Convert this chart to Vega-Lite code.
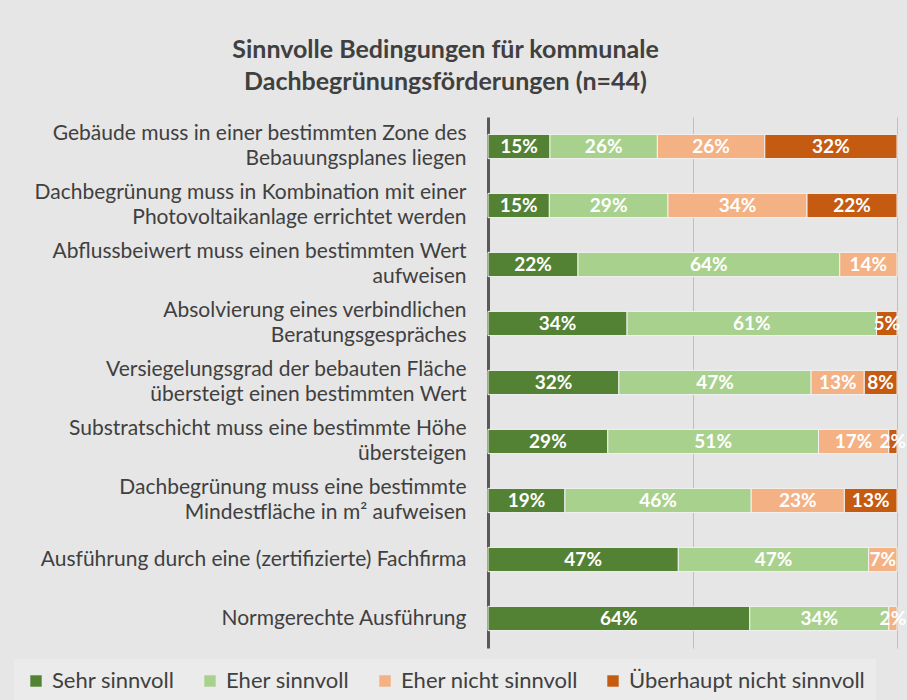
{
  "$schema": "https://vega.github.io/schema/vega-lite/v6.json",
  "autosize": {"type": "none"},
  "width": 409,
  "height": 531,
  "padding": {"left": 488, "top": 117, "right": 10, "bottom": 52},
  "background": "#e6e6e6",
  "config": {
    "font": "Lato",
    "view": {"stroke": null}
  },
  "title": {
    "text": ["Sinnvolle Bedingungen für kommunale", "Dachbegrünungsförderungen (n=44)"],
    "font": "Lato",
    "fontSize": 25,
    "fontWeight": "bold",
    "color": "#404040",
    "lineHeight": 32,
    "anchor": "middle",
    "dx": -247,
    "offset": 22
  },
  "data": {
    "values": [
      {"q": "Gebäude muss in einer bestimmten Zone des|Bebauungsplanes liegen", "c": "Sehr sinnvoll", "o": 1, "v": 15},
      {"q": "Gebäude muss in einer bestimmten Zone des|Bebauungsplanes liegen", "c": "Eher sinnvoll", "o": 2, "v": 26},
      {"q": "Gebäude muss in einer bestimmten Zone des|Bebauungsplanes liegen", "c": "Eher nicht sinnvoll", "o": 3, "v": 26},
      {"q": "Gebäude muss in einer bestimmten Zone des|Bebauungsplanes liegen", "c": "Überhaupt nicht sinnvoll", "o": 4, "v": 32},
      {"q": "Dachbegrünung muss in Kombination mit einer|Photovoltaikanlage errichtet werden", "c": "Sehr sinnvoll", "o": 1, "v": 15},
      {"q": "Dachbegrünung muss in Kombination mit einer|Photovoltaikanlage errichtet werden", "c": "Eher sinnvoll", "o": 2, "v": 29},
      {"q": "Dachbegrünung muss in Kombination mit einer|Photovoltaikanlage errichtet werden", "c": "Eher nicht sinnvoll", "o": 3, "v": 34},
      {"q": "Dachbegrünung muss in Kombination mit einer|Photovoltaikanlage errichtet werden", "c": "Überhaupt nicht sinnvoll", "o": 4, "v": 22},
      {"q": "Abflussbeiwert muss einen bestimmten Wert|aufweisen", "c": "Sehr sinnvoll", "o": 1, "v": 22},
      {"q": "Abflussbeiwert muss einen bestimmten Wert|aufweisen", "c": "Eher sinnvoll", "o": 2, "v": 64},
      {"q": "Abflussbeiwert muss einen bestimmten Wert|aufweisen", "c": "Eher nicht sinnvoll", "o": 3, "v": 14},
      {"q": "Absolvierung eines verbindlichen|Beratungsgespräches", "c": "Sehr sinnvoll", "o": 1, "v": 34},
      {"q": "Absolvierung eines verbindlichen|Beratungsgespräches", "c": "Eher sinnvoll", "o": 2, "v": 61},
      {"q": "Absolvierung eines verbindlichen|Beratungsgespräches", "c": "Überhaupt nicht sinnvoll", "o": 4, "v": 5},
      {"q": "Versiegelungsgrad der bebauten Fläche|übersteigt einen bestimmten Wert", "c": "Sehr sinnvoll", "o": 1, "v": 32},
      {"q": "Versiegelungsgrad der bebauten Fläche|übersteigt einen bestimmten Wert", "c": "Eher sinnvoll", "o": 2, "v": 47},
      {"q": "Versiegelungsgrad der bebauten Fläche|übersteigt einen bestimmten Wert", "c": "Eher nicht sinnvoll", "o": 3, "v": 13},
      {"q": "Versiegelungsgrad der bebauten Fläche|übersteigt einen bestimmten Wert", "c": "Überhaupt nicht sinnvoll", "o": 4, "v": 8},
      {"q": "Substratschicht muss eine bestimmte Höhe|übersteigen", "c": "Sehr sinnvoll", "o": 1, "v": 29},
      {"q": "Substratschicht muss eine bestimmte Höhe|übersteigen", "c": "Eher sinnvoll", "o": 2, "v": 51},
      {"q": "Substratschicht muss eine bestimmte Höhe|übersteigen", "c": "Eher nicht sinnvoll", "o": 3, "v": 17},
      {"q": "Substratschicht muss eine bestimmte Höhe|übersteigen", "c": "Überhaupt nicht sinnvoll", "o": 4, "v": 2},
      {"q": "Dachbegrünung muss eine bestimmte|Mindestfläche in  m² aufweisen", "c": "Sehr sinnvoll", "o": 1, "v": 19},
      {"q": "Dachbegrünung muss eine bestimmte|Mindestfläche in  m² aufweisen", "c": "Eher sinnvoll", "o": 2, "v": 46},
      {"q": "Dachbegrünung muss eine bestimmte|Mindestfläche in  m² aufweisen", "c": "Eher nicht sinnvoll", "o": 3, "v": 23},
      {"q": "Dachbegrünung muss eine bestimmte|Mindestfläche in  m² aufweisen", "c": "Überhaupt nicht sinnvoll", "o": 4, "v": 13},
      {"q": "Ausführung durch eine (zertifizierte) Fachfirma", "c": "Sehr sinnvoll", "o": 1, "v": 47},
      {"q": "Ausführung durch eine (zertifizierte) Fachfirma", "c": "Eher sinnvoll", "o": 2, "v": 47},
      {"q": "Ausführung durch eine (zertifizierte) Fachfirma", "c": "Eher nicht sinnvoll", "o": 3, "v": 7},
      {"q": "Normgerechte Ausführung", "c": "Sehr sinnvoll", "o": 1, "v": 64},
      {"q": "Normgerechte Ausführung", "c": "Eher sinnvoll", "o": 2, "v": 34},
      {"q": "Normgerechte Ausführung", "c": "Eher nicht sinnvoll", "o": 3, "v": 2}
    ]
  },
  "transform": [
    {"stack": "v", "groupby": ["q"], "sort": [{"field": "o"}], "as": ["x0", "x1"], "offset": "normalize"},
    {"calculate": "(datum.x0 + datum.x1) / 2", "as": "xm"},
    {"calculate": "datum.v + '%'", "as": "lab"}
  ],
  "encoding": {
    "y": {
      "field": "q",
      "type": "nominal",
      "sort": null,
      "scale": {"paddingInner": 0.59, "paddingOuter": 0.295},
      "axis": {
        "title": null,
        "labelExpr": "split(datum.label, '|')",
        "labelFont": "Lato",
        "labelFontSize": 21,
        "labelColor": "#404040",
        "labelLineHeight": 25,
        "labelLimit": 480,
        "labelPadding": 22,
        "labelOffset": {"condition": {"test": "indexof(datum.value, '|') >= 0", "value": -12.5}, "value": 0},
        "ticks": false,
        "domainColor": "#595959",
        "domainWidth": 3,
        "grid": false
      }
    }
  },
  "layer": [
    {
      "mark": {"type": "bar", "stroke": "#f2f2f2", "strokeWidth": 1},
      "encoding": {
        "x": {
          "field": "x0",
          "type": "quantitative",
          "scale": {"domain": [0, 1], "nice": false, "zero": true},
          "axis": {
            "title": null,
            "values": [0.5, 1],
            "labels": false,
            "ticks": false,
            "domain": false,
            "grid": true,
            "gridColor": "#bfbfbf",
            "gridWidth": 1
          }
        },
        "x2": {"field": "x1"},
        "color": {
          "field": "c",
          "type": "nominal",
          "scale": {
            "domain": ["Sehr sinnvoll", "Eher sinnvoll", "Eher nicht sinnvoll", "Überhaupt nicht sinnvoll"],
            "range": ["#548235", "#a9d18e", "#f4b183", "#c55a11"]
          },
          "legend": {
            "title": null,
            "orient": "none",
            "direction": "horizontal",
            "legendX": -474,
            "legendY": 542,
            "symbolType": "square",
            "symbolSize": 130,
            "symbolStrokeWidth": 0,
            "labelFont": "Lato",
            "labelFontSize": 22,
            "labelColor": "#404040",
            "labelOffset": 5,
            "labelLimit": 400,
            "columnPadding": 24,
            "padding": 11,
            "fillColor": "#ebebeb"
          }
        }
      }
    },
    {
      "mark": {"type": "text", "color": "white", "fontWeight": "bold", "fontSize": 19, "font": "Lato", "baseline": "middle"},
      "encoding": {
        "x": {"field": "xm", "type": "quantitative"},
        "text": {"field": "lab", "type": "nominal"},
        "detail": {"field": "c"}
      }
    }
  ]
}
